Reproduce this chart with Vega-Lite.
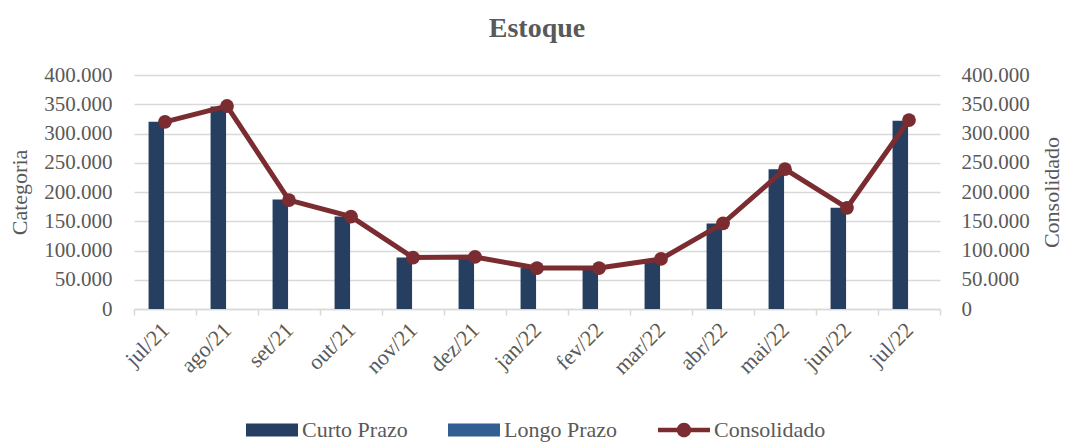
{
  "$schema": "https://vega.github.io/schema/vega-lite/v6.json",
  "width": 806,
  "height": 234,
  "autosize": {"type": "none"},
  "padding": {"left": 134, "top": 75, "right": 128, "bottom": 133},
  "background": "white",
  "config": {
    "font": "Liberation Serif",
    "view": {"stroke": null},
    "axis": {"labelColor": "#595959", "titleColor": "#595959", "labelFont": "Liberation Serif", "titleFont": "Liberation Serif", "titleFontWeight": "normal"},
    "legend": {"labelFont": "Liberation Serif, serif", "labelColor": "#595959", "labelFontSize": 22},
    "text": {"font": "Liberation Serif"}
  },
  "title": {"text": "Estoque", "fontSize": 28, "fontWeight": "bold", "color": "#595959", "font": "Liberation Serif", "offset": 21, "anchor": "middle"},
  "datasets": {
    "barras": [
      {"mes": "jul/21", "serie": "Curto Prazo", "valor": 320000},
      {"mes": "ago/21", "serie": "Curto Prazo", "valor": 346000},
      {"mes": "set/21", "serie": "Curto Prazo", "valor": 187000},
      {"mes": "out/21", "serie": "Curto Prazo", "valor": 158000},
      {"mes": "nov/21", "serie": "Curto Prazo", "valor": 88000},
      {"mes": "dez/21", "serie": "Curto Prazo", "valor": 89000},
      {"mes": "jan/22", "serie": "Curto Prazo", "valor": 70000},
      {"mes": "fev/22", "serie": "Curto Prazo", "valor": 70000},
      {"mes": "mar/22", "serie": "Curto Prazo", "valor": 85000},
      {"mes": "abr/22", "serie": "Curto Prazo", "valor": 146000},
      {"mes": "mai/22", "serie": "Curto Prazo", "valor": 239000},
      {"mes": "jun/22", "serie": "Curto Prazo", "valor": 173000},
      {"mes": "jul/22", "serie": "Curto Prazo", "valor": 322000},
      {"mes": "jul/21", "serie": "Longo Prazo", "valor": 0},
      {"mes": "ago/21", "serie": "Longo Prazo", "valor": 0},
      {"mes": "set/21", "serie": "Longo Prazo", "valor": 0},
      {"mes": "out/21", "serie": "Longo Prazo", "valor": 0},
      {"mes": "nov/21", "serie": "Longo Prazo", "valor": 0},
      {"mes": "dez/21", "serie": "Longo Prazo", "valor": 0},
      {"mes": "jan/22", "serie": "Longo Prazo", "valor": 0},
      {"mes": "fev/22", "serie": "Longo Prazo", "valor": 0},
      {"mes": "mar/22", "serie": "Longo Prazo", "valor": 0},
      {"mes": "abr/22", "serie": "Longo Prazo", "valor": 0},
      {"mes": "mai/22", "serie": "Longo Prazo", "valor": 0},
      {"mes": "jun/22", "serie": "Longo Prazo", "valor": 0},
      {"mes": "jul/22", "serie": "Longo Prazo", "valor": 0}
    ],
    "consolidado": [
      {"mes": "jul/21", "serie": "Consolidado", "valor": 320000},
      {"mes": "ago/21", "serie": "Consolidado", "valor": 347000},
      {"mes": "set/21", "serie": "Consolidado", "valor": 186000},
      {"mes": "out/21", "serie": "Consolidado", "valor": 158000},
      {"mes": "nov/21", "serie": "Consolidado", "valor": 88000},
      {"mes": "dez/21", "serie": "Consolidado", "valor": 89000},
      {"mes": "jan/22", "serie": "Consolidado", "valor": 70000},
      {"mes": "fev/22", "serie": "Consolidado", "valor": 70000},
      {"mes": "mar/22", "serie": "Consolidado", "valor": 85500},
      {"mes": "abr/22", "serie": "Consolidado", "valor": 146500},
      {"mes": "mai/22", "serie": "Consolidado", "valor": 239000},
      {"mes": "jun/22", "serie": "Consolidado", "valor": 173000},
      {"mes": "jul/22", "serie": "Consolidado", "valor": 323000}
    ]
  },
  "encoding": {
    "x": {
      "field": "mes",
      "type": "nominal",
      "scale": {"domain": ["jul/21","ago/21","set/21","out/21","nov/21","dez/21","jan/22","fev/22","mar/22","abr/22","mai/22","jun/22","jul/22"], "paddingInner": 0, "paddingOuter": 0},
      "axis": {
        "title": null,
        "labelAngle": -45,
        "labelAlign": "right",
        "labelBaseline": "middle",
        "labelFontSize": 22,
        "labelPadding": 11,
        "tickBand": "extent",
        "tickColor": "#d9d9d9",
        "tickWidth": 1.5,
        "tickSize": 6,
        "domainColor": "#d9d9d9",
        "domainWidth": 1.5,
        "grid": false
      }
    },
    "color": {
      "field": "serie",
      "type": "nominal",
      "scale": {"domain": ["Curto Prazo", "Longo Prazo", "Consolidado"], "range": ["#263F61", "#335E91", "#7B2C31"]},
      "legend": {
        "title": null,
        "orient": "none",
        "direction": "horizontal",
        "legendX": 112,
        "legendY": 329,
        "labelFontSize": 22,
        "labelColor": "#595959",
        "labelFont": "Liberation Serif, serif",
        "labelOffset": 4,
        "columnPadding": 40,
        "symbolSize": 2704,
        "symbolStrokeWidth": 0,
        "symbolType": "M-1,-0.25H1V0.25H-1Z",
        "encode": {
          "symbols": {
            "update": {
              "shape": {"signal": "datum.value === 'Consolidado' ? 'M-1,-0.085H1V0.085H-1Z M0.28,0A0.28,0.28 0 1 1 -0.28,0A0.28,0.28 0 1 1 0.28,0Z' : 'M-1,-0.25H1V0.25H-1Z'"},
              "fill": {"signal": "datum.value === 'Consolidado' ? '#7B2C31' : (datum.value === 'Longo Prazo' ? '#335E91' : '#263F61')"},
              "strokeWidth": {"value": 0},
              "opacity": {"value": 1},
              "fillOpacity": {"value": 1}
            }
          }
        }
      }
    }
  },
  "layer": [
    {
      "data": {"name": "barras"},
      "mark": {"type": "bar"},
      "encoding": {
        "xOffset": {"field": "serie", "type": "nominal", "scale": {"domain": ["Curto Prazo", "Longo Prazo"], "paddingInner": 0, "paddingOuter": 1.385, "align": 0.47}},
        "y": {
          "field": "valor",
          "type": "quantitative",
          "scale": {"domain": [0, 400000], "nice": false},
          "axis": {
            "title": "Categoria",
            "titleFontSize": 22,
            "titlePadding": 12,
            "orient": "left",
            "values": [0, 50000, 100000, 150000, 200000, 250000, 300000, 350000, 400000],
            "labelExpr": "replace(format(datum.value, ','), ',', '.')",
            "labelFontSize": 21,
            "labelPadding": 22,
            "ticks": false,
            "domain": false,
            "grid": true,
            "gridColor": "#d9d9d9",
            "gridWidth": 1.5
          }
        }
      }
    },
    {
      "data": {"name": "consolidado"},
      "mark": {"type": "line", "strokeWidth": 5, "point": {"filled": true, "size": 190, "opacity": 1}},
      "encoding": {
        "y": {
          "field": "valor",
          "type": "quantitative",
          "scale": {"domain": [0, 400000], "nice": false},
          "axis": {
            "title": "Consolidado",
            "titleFontSize": 22,
            "titleAngle": 270,
            "titleBaseline": "top",
            "titlePadding": 12,
            "orient": "right",
            "values": [0, 50000, 100000, 150000, 200000, 250000, 300000, 350000, 400000],
            "labelExpr": "replace(format(datum.value, ','), ',', '.')",
            "labelFontSize": 21,
            "labelPadding": 21,
            "ticks": false,
            "domain": false,
            "grid": false
          }
        }
      }
    }
  ],
  "resolve": {"scale": {"y": "independent"}}
}
